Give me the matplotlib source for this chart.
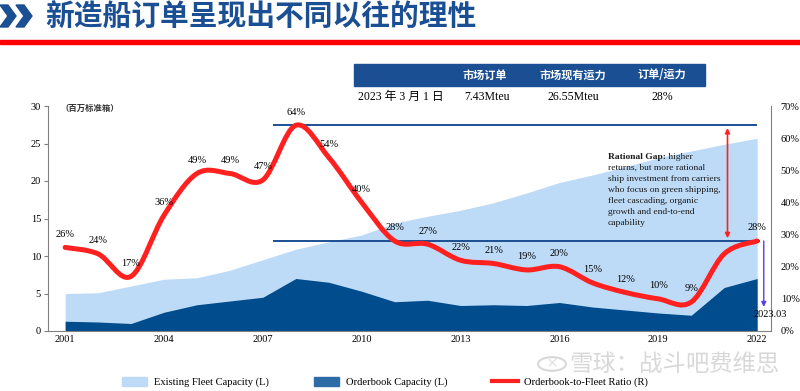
import numpy as np
import matplotlib
matplotlib.use("Agg")
import matplotlib.pyplot as plt
from matplotlib.path import Path
from matplotlib.patches import PathPatch, Rectangle, Polygon, Circle
from matplotlib.lines import Line2D

plt.rcParams['font.family'] = ['Liberation Serif', 'Noto Sans CJK SC']

# data
years = list(range(2001, 2023))
fleet = [5.0, 5.1, 6.0, 6.9, 7.1, 8.1, 9.5, 10.9, 11.9, 12.8, 14.4, 15.3,
         16.1, 17.1, 18.4, 19.8, 20.8, 21.9, 23.1, 24.0, 24.9, 25.7]
orderbook = [1.3, 1.2, 1.0, 2.5, 3.5, 4.0, 4.5, 7.0, 6.5, 5.3, 3.9, 4.1,
             3.4, 3.5, 3.4, 3.8, 3.2, 2.8, 2.4, 2.1, 5.8, 7.0]
ratio = [26, 24, 17, 36, 49, 49, 47, 64, 54, 40, 28, 27,
         22, 21, 19, 20, 15, 12, 10, 9, 24, 28]
ratio_labels = ['26%', '24%', '17%', '36%', '49%', '49%', '47%', '64%', '54%', '40%', '28%', '27%',
                '22%', '21%', '19%', '20%', '15%', '12%', '10%', '9%', '', '28%']
xticks = [2001, 2004, 2007, 2010, 2013, 2016, 2019, 2022]

table_head = ['市场订单', '市场现有运力', '订单/运力']
table_row = ['2023 年 3 月 1 日', '7.43Mteu', '26.55Mteu', '28%']

note_lines = ['returns, but more rational', 'ship investment from carriers',
              'who focus on green shipping,', 'fleet cascading, organic',
              'growth and end-to-end', 'capability']

light = '#BDDBF7'
dark = '#004C8C'
navy = '#1B4F93'
red = '#FF2020'

fig = plt.figure(figsize=(8, 3.91), dpi=100)
W, H = 800, 391

def fx(px):
    return px / W

def fy(py):
    return 1 - py / H

# header decoration
fig.patches.append(Polygon([[fx(0), fy(5)], [fx(8), fy(5)], [fx(16), fy(16)], [fx(8), fy(27)], [fx(0), fy(27)], [fx(8), fy(16)]],
                           closed=True, transform=fig.transFigure, color=navy))
fig.patches.append(Polygon([[fx(16), fy(5)], [fx(24), fy(5)], [fx(32), fy(16)], [fx(24), fy(27)], [fx(16), fy(27)], [fx(24), fy(16)]],
                           closed=True, transform=fig.transFigure, color=navy))
fig.text(fx(45), fy(17), '新造船订单呈现出不同以往的理性', fontsize=20.7, color=navy,
         fontweight='bold', family='Noto Sans CJK SC', va='center', ha='left')
fig.patches.append(Rectangle((0, fy(44)), 1, 4 / H, transform=fig.transFigure, color='#FF0000'))

# table
fig.patches.append(Rectangle((fx(354), fy(86)), fx(351), 22 / H, transform=fig.transFigure, color=navy))
for cx, t in zip([485, 573, 662], table_head):
    fig.text(fx(cx), fy(75), t, color='white', fontsize=8, fontweight='bold',
             family='Noto Sans CJK SC', ha='center', va='center')
fig.text(fx(358), fy(97), table_row[0], fontsize=8.5, ha='left', va='center')
for cx, t in zip([487, 573, 662], table_row[1:]):
    fig.text(fx(cx), fy(97), t, fontsize=8.5, ha='center', va='center')

# main axes
ax = fig.add_axes([fx(48), fy(331), fx(771 - 48), (331 - 106) / H])
ax.fill_between(years, 0, fleet, color=light, lw=0, label='Existing Fleet Capacity (L)')
ax.fill_between(years, 0, orderbook, color=dark, lw=0, label='Orderbook Capacity (L)')
ax.set_xlim(2000.48, 2022.42)
ax.set_ylim(0, 30)
ax.set_yticks(range(0, 31, 5))
ax.set_xticks(xticks)
ax.tick_params(axis='both', labelsize=7.5, length=3, width=0.8, color='#808080', pad=2)
ax.tick_params(axis='x', length=0, pad=3)
for s in ['left', 'bottom']:
    ax.spines[s].set_color('#808080')
ax.spines['top'].set_visible(False)
ax.spines['right'].set_visible(False)
ax.text(0.017, 0.99, '（百万标准箱）', transform=ax.transAxes, fontsize=6, fontweight='bold',
        family='Noto Sans CJK SC', color='#333333', ha='left', va='center')

ax2 = ax.twinx()
ax2.set_ylim(0, 70)
ax2.set_yticks(range(0, 71, 10))
ax2.set_yticklabels([f'{v}%' for v in range(0, 71, 10)])
ax2.tick_params(axis='y', labelsize=7.5, length=0, pad=7)
ax2.spines['right'].set_color('#808080')
for s in ['left', 'top', 'bottom']:
    ax2.spines[s].set_visible(False)

# smooth red line through the ratio points
pts = np.column_stack([years, ratio]).astype(float)
verts = [pts[0]]
codes = [Path.MOVETO]
n = len(pts)
for i in range(n - 1):
    p0 = pts[i - 1] if i > 0 else pts[i]
    p1 = pts[i]
    p2 = pts[i + 1]
    p3 = pts[i + 2] if i + 2 < n else pts[i + 1]
    verts += [p1 + (p2 - p0) / 6, p2 - (p3 - p1) / 6, p2]
    codes += [Path.CURVE4] * 3
ax2.add_patch(PathPatch(Path(verts, codes), fill=False, edgecolor=red, lw=3.6,
                        capstyle='round', joinstyle='round', zorder=5))

for x, v, lab in zip(years, ratio, ratio_labels):
    if lab:
        ax2.annotate(lab, (x, v), xytext=(0, 9.5), textcoords='offset points',
                     ha='center', va='center', fontsize=7.5, zorder=6)

# rational gap lines and arrows
ax2.hlines([max(ratio), ratio[-1]], 2007.3, [2022, 2022.1], color=navy, lw=1.4, zorder=4)
ax2.annotate('', xy=(2021.1, max(ratio)), xytext=(2021.1, ratio[-1]),
             arrowprops=dict(arrowstyle='<|-|>', color=red, lw=1.2, mutation_scale=7), zorder=6)
ax2.annotate('', xy=(2022.2, 7.5), xytext=(2022.2, ratio[-1]),
             arrowprops=dict(arrowstyle='-|>', color='#5B3CF0', lw=1.0, mutation_scale=7, shrinkA=0, shrinkB=0),
             zorder=6)
ax2.text(2022.4, 5, '2023.03', fontsize=7.5, ha='center', va='center', zorder=6)

t0 = ax2.text(fx(608), fy(157), 'Rational Gap:', transform=fig.transFigure, fontsize=6.8,
              fontweight='bold', ha='left', va='center', color='#1a1a1a')
fig.canvas.draw()
bb = t0.get_window_extent()
ax2.text(bb.x1 / W, fy(157), ' higher', transform=fig.transFigure, fontsize=6.8,
         ha='left', va='center', color='#1a1a1a')
for k, line in enumerate(note_lines):
    ax2.text(fx(608), fy(168 + 11 * k), line, transform=fig.transFigure, fontsize=6.8,
             ha='left', va='center', color='#1a1a1a')

# legend
handles = [Rectangle((0, 0), 1, 1, color=light), Rectangle((0, 0), 1, 1, color='#2E6CA8'),
           Line2D([], [], color=red, lw=3)]
labels = ['Existing Fleet Capacity (L)', 'Orderbook Capacity (L)', 'Orderbook-to-Fleet Ratio (R)']
fig.legend(handles, labels, loc='center', bbox_to_anchor=(fx(385), fy(382)), ncol=3, frameon=False,
           fontsize=7.6, handlelength=2.4, handleheight=0.9, handletextpad=0.6, columnspacing=4.3)

# watermark
fig.patches.append(Circle((fx(552), fy(364)), 14 / W, transform=fig.transFigure, fill=False,
                          edgecolor='#D8D8D8', lw=1.5))
fig.text(fx(552), fy(364), '×', fontsize=14, color='#D8D8D8', ha='center', va='center')
fig.text(fx(569), fy(364), '雪球：战斗吧费维思', fontsize=16.8, color='#D8D8D8',
         family='Noto Sans CJK SC', ha='left', va='center')

fig.savefig('out.png', dpi=100)
